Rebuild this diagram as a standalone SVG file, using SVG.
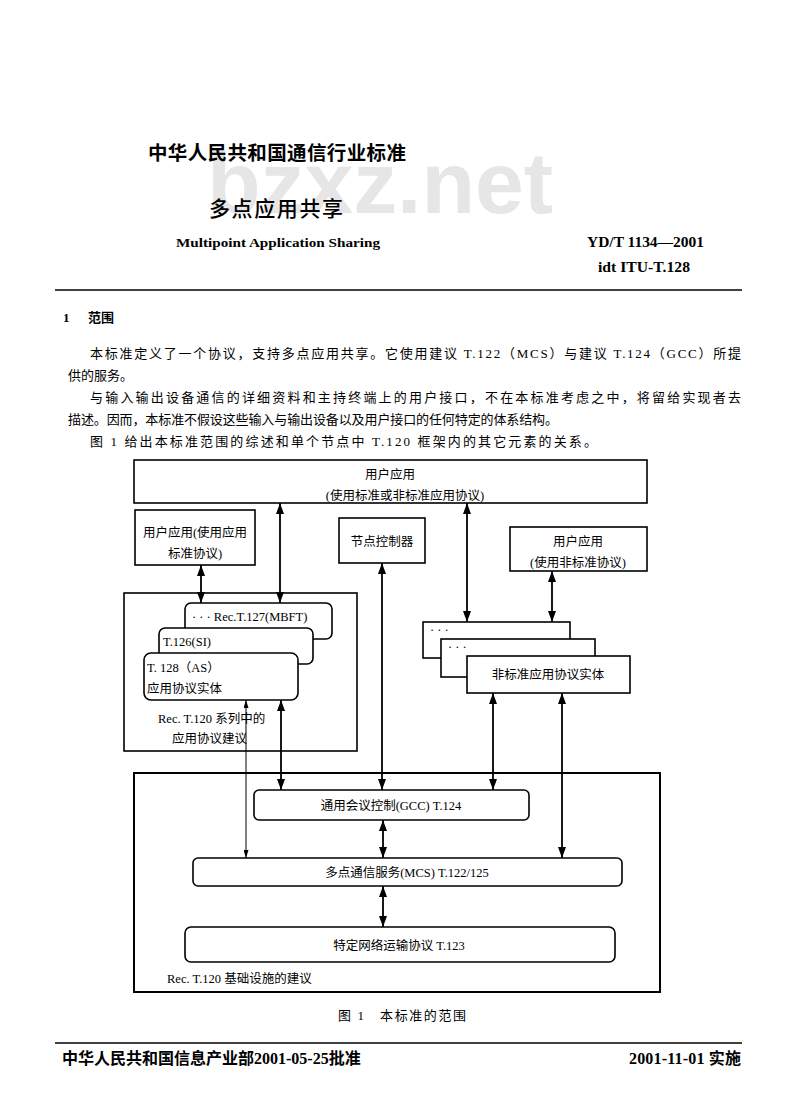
<svg xmlns="http://www.w3.org/2000/svg" width="800" height="1120" viewBox="0 0 800 1120">
<defs>
<style>
.b{fill:#fff;stroke:#000;stroke-width:1.6}
.bb{fill:none;stroke:#000;stroke-width:2}
.t{font-family:"Liberation Serif","Noto Sans CJK SC",serif;font-size:12.5px;fill:#000}
.c{text-anchor:middle}
.p{font-family:"Liberation Serif","Noto Sans CJK SC",serif;font-size:13px;fill:#000}
.h{font-family:"Noto Sans CJK SC",sans-serif;fill:#000}
.l{stroke:#000;stroke-width:1.8;fill:none;marker-start:url(#a);marker-end:url(#a)}
.n{stroke:#000;stroke-width:1;fill:none;marker-start:url(#s);marker-end:url(#s)}
</style>
<marker id="a" viewBox="0 0 11 8" refX="11" refY="4" markerWidth="11" markerHeight="8" markerUnits="userSpaceOnUse" orient="auto-start-reverse"><path d="M0,0L11,4L0,8z" fill="#000"/></marker>
<marker id="s" viewBox="0 0 8 5" refX="8" refY="2.5" markerWidth="8" markerHeight="5" markerUnits="userSpaceOnUse" orient="auto-start-reverse"><path d="M0,0L8,2.5L0,5z" fill="#000"/></marker>
</defs>
<rect width="800" height="1120" fill="#fff"/>

<g id="header">
<text x="207" y="213" font-family="Liberation Sans,sans-serif" font-weight="bold" font-size="88" fill="#e6e6e6" textLength="346" lengthAdjust="spacingAndGlyphs">bzxz.net</text>
<text class="h" x="148" y="160" font-size="19.5" font-weight="bold" textLength="258">中华人民共和国通信行业标准</text>
<text class="h" x="209" y="216" font-size="21" font-weight="500" textLength="134">多点应用共享</text>
<text x="176" y="247" font-family="Liberation Serif,serif" font-weight="bold" font-size="13.5" textLength="204" lengthAdjust="spacingAndGlyphs">Multipoint Application Sharing</text>
<text x="587" y="247" font-family="Liberation Serif,serif" font-weight="bold" font-size="14" textLength="117" lengthAdjust="spacingAndGlyphs">YD/T 1134—2001</text>
<text x="598" y="272" font-family="Liberation Serif,serif" font-weight="bold" font-size="14" textLength="92" lengthAdjust="spacingAndGlyphs">idt ITU-T.128</text>
<line x1="55" y1="290" x2="742" y2="290" stroke="#000" stroke-width="1.5"/>
</g>

<g id="body">
<text class="p" x="63" y="322" font-weight="bold">1</text>
<text class="p" x="88" y="322" font-weight="bold">范围</text>
<text class="p" x="90" y="358" textLength="651">本标准定义了一个协议，支持多点应用共享。它使用建议 T.122（MCS）与建议 T.124（GCC）所提</text>
<text class="p" x="68" y="380">供的服务。</text>
<text class="p" x="90" y="402" textLength="651">与输入输出设备通信的详细资料和主持终端上的用户接口，不在本标准考虑之中，将留给实现者去</text>
<text class="p" x="68" y="424" textLength="490">描述。因而，本标准不假设这些输入与输出设备以及用户接口的任何特定的体系结构。</text>
<text class="p" x="90" y="446" textLength="507">图 1 给出本标准范围的综述和单个节点中 T.120 框架内的其它元素的关系。</text>
</g>

<g id="user-app-top">
<rect class="b" x="134" y="460" width="513" height="43"/>
<text class="t c" x="390" y="479">用户应用</text>
<text class="t c" x="405" y="500">(使用标准或非标准应用协议)</text>
</g>
<g id="user-app-std">
<rect class="b" x="135" y="510" width="120" height="55"/>
<text class="t c" x="195" y="537">用户应用(使用应用</text>
<text class="t c" x="195" y="558">标准协议)</text>
</g>
<g id="node-controller">
<rect class="b" x="339" y="518" width="86" height="45"/>
<text class="t c" x="382" y="546">节点控制器</text>
</g>
<g id="user-app-nonstd">
<rect class="b" x="510" y="527" width="137" height="44"/>
<text class="t c" x="578" y="546">用户应用</text>
<text class="t c" x="578" y="567">(使用非标准协议)</text>
</g>

<g id="app-protocols">
<rect class="b" x="124" y="593" width="233" height="158"/>
<text class="t" x="158" y="723">Rec. T.120 系列中的</text>
<text class="t" x="172" y="743">应用协议建议</text>
</g>
<g id="t127">
<rect class="b" x="185" y="603" width="147" height="36" rx="6"/>
<text class="t" x="192" y="621">· · · Rec.T.127(MBFT)</text>
</g>
<g id="t126">
<rect class="b" x="159" y="628" width="154" height="36" rx="6"/>
<text class="t" x="163" y="646">T.126(SI)</text>
</g>
<g id="t128">
<rect class="b" x="144" y="653" width="154" height="47" rx="7"/>
<text class="t" x="147" y="672">T. 128（AS）</text>
<text class="t" x="147" y="693">应用协议实体</text>
</g>

<g id="nonstd-1">
<rect class="b" x="423" y="622" width="147" height="36"/>
<text class="t" x="430" y="634">· · ·</text>
</g>
<g id="nonstd-2">
<rect class="b" x="441" y="639" width="154" height="38"/>
<text class="t" x="448" y="651">· · ·</text>
</g>
<g id="nonstd-entity">
<rect class="b" x="467" y="656" width="163" height="37"/>
<text class="t c" x="548" y="679">非标准应用协议实体</text>
</g>

<g id="infrastructure">
<rect class="bb" x="134" y="773" width="526" height="219"/>
<text class="t" x="167" y="983">Rec. T.120  基础设施的建议</text>
</g>
<g id="gcc">
<rect class="b" x="254" y="790" width="275" height="30" rx="5"/>
<text class="t c" x="391" y="810">通用会议控制(GCC) T.124</text>
</g>
<g id="mcs">
<rect class="b" x="193" y="858" width="429" height="28" rx="5"/>
<text class="t c" x="407" y="877">多点通信服务(MCS) T.122/125</text>
</g>
<g id="network">
<rect class="b" x="185" y="927" width="430" height="35" rx="6"/>
<text class="t c" x="399" y="950">特定网络运输协议 T.123</text>
</g>

<g id="connectors">
<path class="l" d="M280,503V603"/>
<path class="l" d="M201,565V603"/>
<path class="l" d="M382,563V790" stroke-width="1.3"/>
<path class="l" d="M467,503V622"/>
<path class="l" d="M552,571V622"/>
<path class="l" d="M493,693V790"/>
<path class="l" d="M562,693V858"/>
<path class="l" d="M281,700V790"/>
<path class="n" d="M246,700V858"/>
<path class="l" d="M383,820V858"/>
<path class="l" d="M383,886V927"/>
</g>

<g id="footer">
<text class="p" x="338" y="1020" font-size="13.5" textLength="128">图 1　本标准的范围</text>
<line x1="55" y1="1043" x2="742" y2="1043" stroke="#000" stroke-width="1.5"/>
<text x="62" y="1064" font-family="Liberation Serif,Noto Sans CJK SC,serif" font-size="16" font-weight="bold">中华人民共和国信息产业部2001-05-25批准</text>
<text x="741" y="1064" font-family="Liberation Serif,Noto Sans CJK SC,serif" font-size="16" font-weight="bold" text-anchor="end" textLength="112">2001-11-01 实施</text>
</g>
</svg>
